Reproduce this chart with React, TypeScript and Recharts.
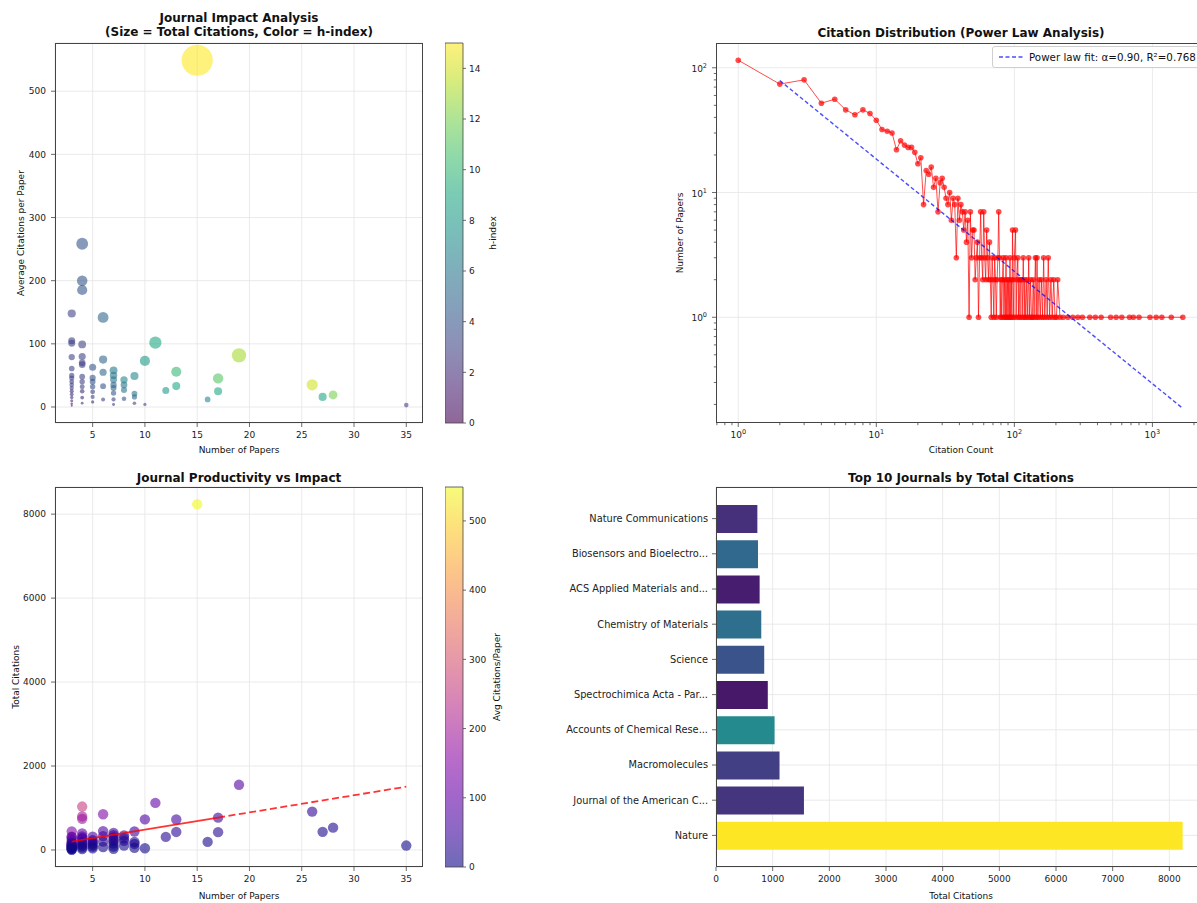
import React from 'react';
import {
  ScatterChart, Scatter, BarChart, Bar, Cell, XAxis, YAxis, CartesianGrid, ReferenceLine,
} from 'recharts';

// ---- journal data (first ten are the top 10 by total citations) ----
const topJournalNames = [
  'Nature',
  'Journal of the American Chemical Society',
  'Macromolecules',
  'Accounts of Chemical Research',
  'Spectrochimica Acta - Part A: Molecular and Biomolecular Spectroscopy',
  'Science',
  'Chemistry of Materials',
  'ACS Applied Materials and Interfaces',
  'Biosensors and Bioelectronics',
  'Nature Communications',
];

const journalPapers = [
  15, 19, 11, 4, 26, 6, 4, 17, 4, 10,
  13, 13, 17, 27, 28, 12, 16, 35, 10,
  4, 3, 3, 3,
  6, 6, 6, 6,
  5, 5, 5, 5, 5, 5, 5,
  4, 4, 4, 4, 4, 4, 4, 4, 4,
  3, 3, 3, 3, 3, 3, 3, 3, 3, 3, 3, 3, 3,
  7, 7, 7, 7, 7, 7, 7, 7,
  8, 8, 8, 8,
  9, 9, 9, 9,
];
const journalCitations = [
  8235, 1552, 1121, 1034, 914, 851, 799, 770, 741, 730,
  725, 430, 425, 432, 532, 312, 192, 105, 40,
  396, 444, 315, 303,
  450, 330, 198, 72,
  315, 230, 200, 160, 120, 80, 40,
  320, 280, 268, 192, 160, 128, 100, 60, 24,
  237, 183, 150, 138, 120, 105, 90, 75, 60, 45, 30, 15, 6,
  406, 350, 301, 245, 210, 154, 84, 28,
  344, 280, 216, 104,
  441, 189, 144, 54,
];
const journalHIndex = [
  15, 13, 9, 4, 14, 5, 4, 11, 4, 8,
  10, 9, 9, 9, 12, 8, 7, 3, 3,
  3, 3, 3, 3,
  5, 5, 4, 3,
  4, 4, 4, 4, 3, 3, 2,
  3, 3, 3, 3, 3, 3, 2, 2, 2,
  3, 3, 3, 3, 3, 3, 3, 2, 2, 2, 2, 1, 1,
  6, 6, 6, 5, 5, 4, 3, 2,
  7, 6, 6, 4,
  7, 6, 5, 3,
];

// ---- citation distribution (citation count -> number of papers) ----
const citationValues = [
  1, 2, 3, 4, 5, 6, 7, 8, 9, 10, 11, 12, 13, 14, 15, 16, 17, 18, 19, 20,
  21, 22, 23, 24, 25, 26, 27, 28, 29, 30, 31, 32, 33, 34, 35, 36, 37, 38, 39, 40,
  41, 42, 43, 44, 45, 46, 47, 48, 49, 50, 51, 52, 53, 54, 55, 56, 57, 58, 59, 60,
  61, 62, 63, 64, 65, 66, 67, 68, 69, 70, 71, 72, 73, 74, 75, 76, 77, 78, 79, 80,
  81, 82, 83, 84, 85, 86, 87, 88, 89, 90, 91, 92, 93, 94, 95, 96, 97, 98, 99, 100,
  102, 103, 104, 106, 107, 108, 110, 111, 113, 114, 116, 118, 119, 121, 123, 125, 127, 129,
  131, 133, 135, 137, 139, 142, 144, 146, 148, 151, 154, 157, 160, 163, 166, 170, 173, 176,
  180, 184, 188, 193, 197, 202, 206, 214, 226, 244, 265, 288, 311, 352, 386, 425, 498,
  546, 600, 682, 728, 800, 960, 1065, 1170, 1370, 1660,
];
const paperCounts = [
  115, 74, 80, 52, 56, 46, 42, 46, 43, 38, 32, 31, 30, 22, 26, 24, 23, 23, 21, 17,
  19, 8, 15, 14, 16, 11, 13, 7, 12, 13, 11, 9, 8, 10, 6, 9, 8, 3, 9, 6,
  8, 7, 5, 7, 4, 6, 1, 7, 3, 5, 5, 2, 3, 4, 1, 3, 7, 3, 2, 7,
  3, 2, 5, 3, 2, 4, 2, 1, 3, 2, 1, 3, 2, 1, 2, 3, 7, 3, 1, 2,
  1, 2, 3, 1, 2, 1, 3, 1, 2, 1, 2, 1, 3, 1, 2, 1, 5, 2, 1, 3,
  5, 1, 2, 3, 1, 2, 1, 2, 2, 1, 3, 1, 2, 1, 2, 1, 3, 1,
  2, 1, 1, 2, 1, 3, 1, 3, 1, 2, 1, 2, 1, 3, 1, 2, 1, 3,
  1, 2, 1, 2, 1, 1, 2, 1, 1, 1, 1, 1, 1, 1, 1, 1, 1,
  1, 1, 1, 1, 1, 1, 1, 1, 1, 1,
];

// power law fit endpoints (alpha = 0.90)
const fitCitations = [2, 1660];
const fitPapers = [79, 0.186];

// linear trend of total citations vs number of papers
const trendPapers = [3, 17, 35];
const trendTotals = [200, 772, 1508];

const paperTicks = [5, 10, 15, 20, 25, 30, 35];
const avgTicks = [0, 100, 200, 300, 400, 500];
const totalTicks = [0, 2000, 4000, 6000, 8000];
const hTicks = [0, 2, 4, 6, 8, 10, 12, 14];
const avgBarTicks = [0, 100, 200, 300, 400, 500];
const barTicks = [0, 1000, 2000, 3000, 4000, 5000, 6000, 7000, 8000];
const logDecades = [0.1, 1, 10, 100, 1000];

// ---- styling ----
const FONT = '"DejaVu Sans", sans-serif';
const INK = '#222';
const GRID = '#e4e4e4';
const SPINE = '#444';
const VIRIDIS = ['#440154', '#482475', '#414487', '#355f8d', '#2a788e', '#21918c', '#22a884', '#44bf70', '#7ad151', '#bddf26', '#fde725'];
const PLASMA = ['#0d0887', '#41049d', '#6a00a8', '#8f0da4', '#b12a90', '#cc4778', '#e16462', '#f2844b', '#fca636', '#fcce25', '#f0f921'];

const tickStyle = { fontSize: 9, fill: INK, fontFamily: FONT };
const tickLineStyle = { stroke: SPINE, strokeWidth: 0.8 };
const TS = 4; // tick length
const TM = 5; // tick label pad

function hexRgb(h: string) {
  const n = parseInt(h.slice(1), 16);
  return [(n >> 16) & 255, (n >> 8) & 255, n & 255];
}
function colormap(stops: string[], t: number) {
  const tt = Math.max(0, Math.min(1, t)) * (stops.length - 1);
  const i = Math.min(Math.floor(tt), stops.length - 2);
  const f = tt - i;
  const a = hexRgb(stops[i]);
  const b = hexRgb(stops[i + 1]);
  const c = a.map((v, k) => Math.round(v + (b[k] - v) * f));
  return `rgb(${c[0]},${c[1]},${c[2]})`;
}

const journals = journalPapers.map((papers, i) => ({
  papers,
  total: journalCitations[i],
  avg: journalCitations[i] / papers,
  h: journalHIndex[i],
}));
const maxTotal = Math.max(...journalCitations);
const maxH = Math.max(...journalHIndex);
const maxAvg = Math.max(...journals.map((j) => j.avg));

const distribution = citationValues.map((cites, i) => ({ cites, count: paperCounts[i] }));
const fitLine = fitCitations.map((cites, i) => ({ cites, count: fitPapers[i] }));
const trendSolid = trendPapers.slice(0, 2).map((papers, i) => ({ papers, total: trendTotals[i] }));
const trendDashed = trendPapers.slice(1).map((papers, i) => ({ papers, total: trendTotals[i + 1] }));

const shorten = (s: string) => (s.length > 25 ? s.slice(0, 25) + '...' : s);
const topJournals = topJournalNames
  .map((name, i) => ({ label: shorten(name), total: journalCitations[i], avg: journalCitations[i] / journalPapers[i] }))
  .sort((a, b) => a.total - b.total);

const logXTicks = logDecades.flatMap((d) => [1, 2, 3, 4, 5, 6, 7, 8, 9].map((m) => m * d)).filter((v) => v >= 0.69 && v <= 2404);
const logYTicks = logDecades.flatMap((d) => [1, 2, 3, 4, 5, 6, 7, 8, 9].map((m) => m * d)).filter((v) => v >= 0.142 && v <= 158);

// ---- small helpers ----
function Txt({ x, y, text, size = 9, bold = false, rotate = 0 }: any) {
  return (
    <div
      style={{
        position: 'absolute', left: x, top: y, whiteSpace: 'pre', textAlign: 'center',
        transform: `translate(-50%, -50%) rotate(${rotate}deg)`,
        fontSize: size, fontWeight: bold ? 'bold' : 'normal', lineHeight: '14px', color: '#111',
      }}
    >
      {text}
    </div>
  );
}

function Frame({ x, y, w, h }: any) {
  return (
    <div
      style={{
        position: 'absolute', left: x, top: y, width: w, height: h, boxSizing: 'border-box',
        border: `1px solid ${SPINE}`, pointerEvents: 'none',
      }}
    />
  );
}

function LogTick(props: any) {
  const { x, y, payload, side } = props;
  const e = Math.log10(payload.value);
  const major = Math.abs(e - Math.round(e)) < 1e-6;
  const len = major ? TS : 2.2;
  const label = major ? (
    <>
      10<tspan dy={-4} fontSize={6.5}>{Math.round(e)}</tspan>
    </>
  ) : null;
  if (side === 'bottom') {
    const ay = y - TS - TM;
    return (
      <g>
        <line x1={x} x2={x} y1={ay} y2={ay + len} stroke={SPINE} strokeWidth={0.8} />
        {major && (
          <text x={x} y={y} dy="0.71em" textAnchor="middle" fontSize={9} fill={INK} fontFamily={FONT}>{label}</text>
        )}
      </g>
    );
  }
  const ax = x + TS + TM;
  return (
    <g>
      <line x1={ax - len} x2={ax} y1={y} y2={y} stroke={SPINE} strokeWidth={0.8} />
      {major && (
        <text x={x} y={y} dy="0.45em" textAnchor="end" fontSize={9} fill={INK} fontFamily={FONT}>{label}</text>
      )}
    </g>
  );
}

function ColorBar({ id, stops, max, ticks }: any) {
  return (
    <BarChart width={48} height={450} data={[{ name: 'c', v: max }]} margin={{ top: 43, right: 0, bottom: 27, left: 0 }} barCategoryGap={0}>
      <defs>
        <linearGradient id={id} x1="0" y1="1" x2="0" y2="0">
          {stops.map((c: string, i: number) => (
            <stop key={i} offset={i / (stops.length - 1)} stopColor={c} />
          ))}
        </linearGradient>
      </defs>
      <XAxis dataKey="name" hide />
      <YAxis
        orientation="right" type="number" domain={[0, max]} ticks={ticks} width={30} interval={0}
        tick={tickStyle} tickLine={tickLineStyle} axisLine={false} tickSize={3} tickMargin={3}
      />
      <Bar dataKey="v" fill={`url(#${id})`} fillOpacity={0.6} stroke={SPINE} strokeWidth={0.8} isAnimationActive={false} />
    </BarChart>
  );
}

// ---- panels ----
function ImpactChart() {
  return (
    <ScatterChart width={423} height={450} margin={{ top: 43, right: 0, bottom: 0, left: 0 }}>
      <CartesianGrid stroke={GRID} strokeWidth={0.8} />
      <XAxis
        type="number" dataKey="papers" domain={[1.4, 36.6]} ticks={paperTicks} interval={0} allowDataOverflow
        height={27} tick={tickStyle} tickLine={tickLineStyle} axisLine={false} tickSize={TS} tickMargin={TM}
      />
      <YAxis
        type="number" dataKey="avg" domain={[-25.35, 576.35]} ticks={avgTicks} interval={0} allowDataOverflow
        width={55} tick={tickStyle} tickLine={tickLineStyle} axisLine={false} tickSize={TS} tickMargin={TM}
      />
      <Scatter
        data={journals}
        isAnimationActive={false}
        shape={(p: any) => (
          <circle
            cx={p.cx} cy={p.cy}
            r={0.6 + 15 * Math.sqrt(p.payload.total / maxTotal)}
            fill={colormap(VIRIDIS, p.payload.h / maxH)}
            fillOpacity={0.6}
          />
        )}
      />
    </ScatterChart>
  );
}

function DistributionChart() {
  return (
    <ScatterChart width={545} height={450} margin={{ top: 43, right: 0, bottom: 0, left: 0 }}>
      {[1, 10, 100, 1000].map((v) => (
        <ReferenceLine key={'x' + v} x={v} stroke={GRID} strokeWidth={0.8} />
      ))}
      {[1, 10, 100].map((v) => (
        <ReferenceLine key={'y' + v} y={v} stroke={GRID} strokeWidth={0.8} />
      ))}
      <XAxis
        type="number" scale="log" dataKey="cites" domain={[0.69, 2404]} ticks={logXTicks} interval={0} allowDataOverflow
        height={27} tickLine={false} axisLine={false} tickSize={TS} tickMargin={TM}
        tick={(p: any) => <LogTick {...p} side="bottom" />}
      />
      <YAxis
        type="number" scale="log" dataKey="count" domain={[0.142, 158]} ticks={logYTicks} interval={0} allowDataOverflow
        width={56} tickLine={false} axisLine={false} tickSize={TS} tickMargin={TM}
        tick={(p: any) => <LogTick {...p} side="left" />}
      />
      <Scatter
        data={distribution}
        isAnimationActive={false}
        line={{ stroke: '#ff0000', strokeWidth: 1, strokeOpacity: 0.7 }}
        shape={(p: any) => <circle cx={p.cx} cy={p.cy} r={2.8} fill="#ff0000" fillOpacity={0.7} />}
      />
      <Scatter
        data={fitLine}
        isAnimationActive={false}
        line={{ stroke: '#0000ff', strokeWidth: 1.4, strokeOpacity: 0.7, strokeDasharray: '4 2.5' }}
        shape={() => <g />}
      />
    </ScatterChart>
  );
}

function ProductivityChart() {
  return (
    <ScatterChart width={423} height={450} margin={{ top: 43, right: 0, bottom: 0, left: 0 }}>
      <CartesianGrid stroke={GRID} strokeWidth={0.8} />
      <XAxis
        type="number" dataKey="papers" domain={[1.4, 36.6]} ticks={paperTicks} interval={0} allowDataOverflow
        height={27} tick={tickStyle} tickLine={tickLineStyle} axisLine={false} tickSize={TS} tickMargin={TM}
      />
      <YAxis
        type="number" dataKey="total" domain={[-405.5, 8646.5]} ticks={totalTicks} interval={0} allowDataOverflow
        width={55} tick={tickStyle} tickLine={tickLineStyle} axisLine={false} tickSize={TS} tickMargin={TM}
      />
      <Scatter
        data={journals}
        isAnimationActive={false}
        shape={(p: any) => (
          <circle cx={p.cx} cy={p.cy} r={5.2} fill={colormap(PLASMA, p.payload.avg / maxAvg)} fillOpacity={0.6} />
        )}
      />
      <Scatter
        data={trendSolid}
        isAnimationActive={false}
        line={{ stroke: '#ff0000', strokeWidth: 1.8, strokeOpacity: 0.8 }}
        shape={() => <g />}
      />
      <Scatter
        data={trendDashed}
        isAnimationActive={false}
        line={{ stroke: '#ff0000', strokeWidth: 1.8, strokeOpacity: 0.8, strokeDasharray: '7 3.5' }}
        shape={() => <g />}
      />
    </ScatterChart>
  );
}

function CategoryTick(props: any) {
  const { x, y, payload } = props;
  return (
    <text x={x} y={y} dy="0.355em" textAnchor="end" fontSize={9.8} fill={INK} fontFamily={FONT}>
      {payload.value}
    </text>
  );
}

function TopJournalsChart() {
  return (
    <BarChart layout="vertical" width={666} height={450} data={topJournals} margin={{ top: 43, right: 0, bottom: 0, left: 0 }}>
      <CartesianGrid stroke={GRID} strokeWidth={0.8} />
      <XAxis
        type="number" domain={[0, 8647]} ticks={barTicks} interval={0} allowDataOverflow
        height={27} tick={tickStyle} tickLine={tickLineStyle} axisLine={false} tickSize={TS} tickMargin={TM}
      />
      <YAxis
        type="category" dataKey="label" width={176} interval={0} padding={{ top: 14, bottom: 14 }}
        tick={(p: any) => <CategoryTick {...p} />} tickLine={tickLineStyle} axisLine={false} tickSize={TS} tickMargin={4}
      />
      <Bar dataKey="total" barSize={28} isAnimationActive={false}>
        {topJournals.map((d, i) => (
          <Cell key={i} fill={colormap(VIRIDIS, d.avg / maxAvg)} />
        ))}
      </Bar>
    </BarChart>
  );
}

export default function App() {
  return (
    <div
      style={{
        position: 'absolute', left: 0, top: 0, width: 1197, height: 903, overflow: 'hidden',
        background: '#fff', fontFamily: FONT,
      }}
    >
      <div style={{ position: 'absolute', left: 0, top: 0 }}><ImpactChart /></div>
      <div style={{ position: 'absolute', left: 445, top: 0 }}>
        <ColorBar id="viridisBar" stops={VIRIDIS} max={maxH} ticks={hTicks} />
      </div>
      <div style={{ position: 'absolute', left: 660, top: 0 }}><DistributionChart /></div>
      <div style={{ position: 'absolute', left: 0, top: 444 }}><ProductivityChart /></div>
      <div style={{ position: 'absolute', left: 445, top: 444 }}>
        <ColorBar id="plasmaBar" stops={PLASMA} max={maxAvg} ticks={avgBarTicks} />
      </div>
      <div style={{ position: 'absolute', left: 540, top: 444 }}><TopJournalsChart /></div>

      <Frame x={55} y={43} w={368} h={380} />
      <Frame x={716} y={43} w={490} h={380} />
      <Frame x={55} y={487} w={368} h={380} />
      <Frame x={716} y={487} w={490} h={380} />

      <Txt x={239} y={25} text={'Journal Impact Analysis\n(Size = Total Citations, Color = h-index)'} size={12} bold />
      <Txt x={961} y={33} text="Citation Distribution (Power Law Analysis)" size={12} bold />
      <Txt x={239} y={478} text="Journal Productivity vs Impact" size={12} bold />
      <Txt x={961} y={478} text="Top 10 Journals by Total Citations" size={12} bold />

      <Txt x={239} y={450} text="Number of Papers" />
      <Txt x={21} y={233} text="Average Citations per Paper" rotate={-90} />
      <Txt x={493} y={233} text="h-index" rotate={-90} />
      <Txt x={961} y={450} text="Citation Count" />
      <Txt x={680} y={233} text="Number of Papers" rotate={-90} />
      <Txt x={239} y={896} text="Number of Papers" />
      <Txt x={16} y={677} text="Total Citations" rotate={-90} />
      <Txt x={497} y={677} text="Avg Citations/Paper" rotate={-90} />
      <Txt x={961} y={896} text="Total Citations" />

      <div
        style={{
          position: 'absolute', left: 992, top: 46, height: 20, padding: '0 6px', display: 'flex', alignItems: 'center',
          border: '1px solid #cfcfcf', borderRadius: 3, background: 'rgba(255,255,255,0.85)', whiteSpace: 'nowrap', fontSize: 10.3, color: '#111',
        }}
      >
        <svg width={24} height={6}>
          <line x1={0} y1={3} x2={24} y2={3} stroke="#0000ff" strokeOpacity={0.7} strokeWidth={1.4} strokeDasharray="4 2.5" />
        </svg>
        <span style={{ marginLeft: 6 }}>Power law fit: α=0.90, R²=0.768</span>
      </div>
    </div>
  );
}
